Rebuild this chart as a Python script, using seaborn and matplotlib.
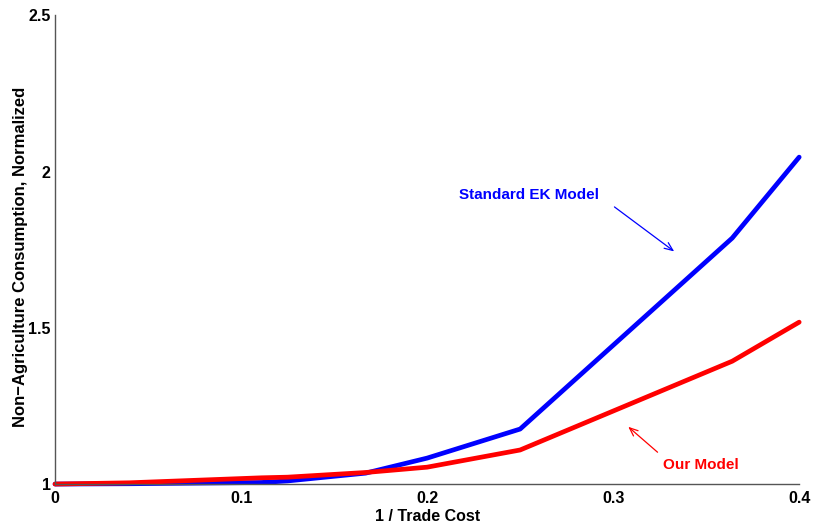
import pandas as pd
import numpy as np
import matplotlib.pyplot as plt
import seaborn as sns

# ---------------------------
# DATA
# ---------------------------
inv_trade_cost = [0.0, 0.04, 0.111, 0.125, 0.167, 0.2, 0.25, 0.364, 0.4]
ek_model = [1.0, 1.001, 1.005, 1.01, 1.035, 1.083, 1.176, 1.787, 2.046]
our_model = [1.0, 1.004, 1.02, 1.022, 1.037, 1.054, 1.109, 1.393, 1.518]

x_ticks = [0, 0.1, 0.2, 0.3, 0.4]
x_tick_labels = ["0", "0.1", "0.2", "0.3", "0.4"]
y_ticks = [1, 1.5, 2, 2.5]
y_tick_labels = ["1", "1.5", "2", "2.5"]

df = pd.DataFrame({
    "x": inv_trade_cost * 2,
    "y": ek_model + our_model,
    "model": ["Standard EK Model"] * len(ek_model) + ["Our Model"] * len(our_model),
})

# ---------------------------
# PLOT
# ---------------------------
sns.set_style("white")
plt.rcParams["font.family"] = ["Liberation Sans", "DejaVu Sans"]
plt.rcParams["font.weight"] = "bold"
plt.rcParams["text.color"] = "black"
plt.rcParams["axes.labelcolor"] = "black"

fig = plt.figure(figsize=(8.13, 5.25), dpi=100)
ax = fig.add_axes([0.0677, 0.078, 0.9153, 0.893])

sns.lineplot(data=df, x="x", y="y", hue="model",
             palette={"Standard EK Model": "#0000ff", "Our Model": "#ff0000"},
             linewidth=3.4, legend=False, ax=ax, clip_on=False)

ax.set_xlim(0, 0.4)
ax.set_ylim(1, 2.5)
ax.set_xticks(x_ticks)
ax.set_xticklabels(x_tick_labels, fontsize=11.5, fontweight="bold")
ax.set_yticks(y_ticks)
ax.set_yticklabels(y_tick_labels, fontsize=11.5, fontweight="bold")
ax.tick_params(direction="in", length=5, color="#555555", labelcolor="black")
ax.tick_params(axis="x", pad=5)
ax.tick_params(axis="y", pad=3)

for s in ["top", "right"]:
    ax.spines[s].set_visible(False)
for s in ["left", "bottom"]:
    ax.spines[s].set_color("#555555")
    ax.spines[s].set_linewidth(1)

ax.set_xlabel("1 / Trade Cost", fontsize=11.5, fontweight="bold", labelpad=2)
ax.set_ylabel("Non\u2212Agriculture Consumption, Normalized", fontsize=12,
              fontweight="bold")
ax.yaxis.set_label_coords(-0.036, 0.485)

# annotations
ax.annotate("", xy=(0.334, 1.739), xytext=(0.2995, 1.892),
            arrowprops=dict(arrowstyle="->,head_length=0.6,head_width=0.25",
                            color="#0000ff", lw=0.9))
ax.text(0.255, 1.924, "Standard EK Model", color="#0000ff", fontsize=11,
        fontweight="bold", ha="center", va="center")

ax.annotate("", xy=(0.307, 1.189), xytext=(0.325, 1.096),
            arrowprops=dict(arrowstyle="->,head_length=0.6,head_width=0.25",
                            color="#ff0000", lw=0.9))
ax.text(0.347, 1.061, "Our Model", color="#ff0000", fontsize=11,
        fontweight="bold", ha="center", va="center")

plt.savefig("out.png", dpi=100)
